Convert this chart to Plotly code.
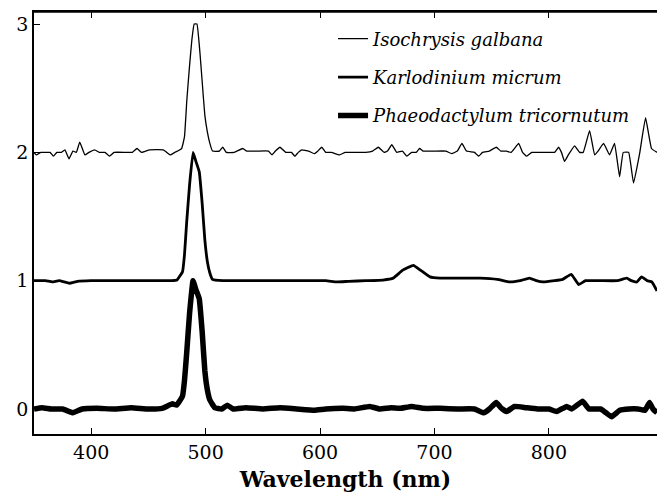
import plotly.graph_objects as go

# ---- data (wavelength nm, offset normalized signal) ----
iso_x = [350, 352, 356, 360, 364, 367, 370, 374, 377, 380.6, 384, 387, 390, 394.5, 398, 403, 407, 412, 416, 420,
         430, 436, 440, 444, 451, 463, 466, 469, 473, 479, 481.5, 483.6, 486, 488, 490, 492.4, 495, 497, 499.3, 501.5, 503.7, 506, 512, 515,
         518, 525, 532.5, 536, 545, 555, 558, 561, 565, 570, 575, 578, 581, 584, 590, 595, 598, 601.5, 605, 610,
         617, 622, 630, 640, 646, 651, 656, 659, 662.7, 667, 672, 675.8, 680, 684, 687, 690, 700, 710, 715, 720,
         724, 728, 735, 738.6, 742, 748, 754, 758, 763, 767, 773.6, 777, 780.6, 785, 790, 800, 805, 808.5, 811, 813.7,
         817, 822.5, 826.9, 830, 835.6, 840, 843, 847.8, 853, 857.4, 861.8, 865, 869.7, 874, 879.3, 884.5, 889.7, 894.5]
iso_y = [2.0, 1.98, 2.0, 2.0, 2.0, 1.97, 2.0, 2.0, 2.02, 1.95, 2.01, 2.0, 2.08, 1.98, 2.0, 2.02, 2.0, 2.0, 1.97, 2.0,
         2.0, 2.0, 2.03, 2.0, 2.02, 2.02, 2.0, 1.98, 2.0, 2.03, 2.12, 2.41, 2.68, 2.88, 3.0, 3.0, 2.78, 2.55, 2.29, 2.16, 2.07, 2.01, 2.01, 2.04,
         2.0, 2.0, 2.03, 2.01, 2.01, 2.01, 1.98, 2.01, 2.04, 2.0, 2.0, 1.97, 2.0, 2.02, 2.01, 1.99, 2.01, 2.04, 2.0, 2.0,
         1.98, 2.0, 2.0, 2.0, 2.01, 2.04, 2.0, 2.01, 2.06, 2.0, 2.01, 1.97, 2.0, 2.0, 2.03, 2.01, 2.01, 2.01, 1.99, 2.01,
         2.07, 2.01, 2.0, 1.97, 2.0, 2.01, 2.04, 2.01, 2.01, 2.0, 2.07, 2.0, 1.97, 2.0, 2.0, 2.0, 2.0, 2.04, 2.0, 1.93,
         1.98, 2.05, 2.0, 2.0, 2.17, 1.98, 2.01, 2.07, 1.98, 2.07, 1.81, 2.0, 2.0, 1.76, 1.99, 2.27, 2.03, 2.0]

kar_x = [350, 360, 366, 372, 381, 388, 400, 420, 440, 460, 470, 475, 479.8, 481.5, 483.4, 486, 489, 491.5, 494.4, 497, 499.3, 501.5, 503.7, 506, 515,
         530, 550, 570, 590, 605, 614.6, 625, 640, 655, 664, 672, 681.6, 688, 696, 705, 720, 740, 755, 765.7, 775,
         783, 789, 795, 805, 812, 819.6, 826, 832, 845, 860, 868, 872, 877, 881, 886, 890, 894.5]
kar_y = [1.0, 1.0, 0.99, 1.0, 0.98, 0.995, 1.0, 1.0, 1.0, 1.0, 1.0, 1.005, 1.07, 1.2, 1.45, 1.75, 2.0, 1.93, 1.85, 1.6, 1.32, 1.15, 1.06, 1.01, 1.0,
         1.0, 1.0, 1.0, 1.0, 1.0, 0.99, 0.995, 1.0, 1.005, 1.02, 1.08, 1.12, 1.08, 1.03, 1.02, 1.02, 1.02, 1.01, 0.99, 1.0,
         1.02, 1.0, 0.99, 1.0, 1.01, 1.05, 0.97, 1.0, 1.0, 1.0, 1.02, 1.0, 0.99, 1.03, 1.0, 0.99, 0.92]

pha_x = [350, 357, 365, 375, 384, 392, 405, 420, 435, 450, 462, 471, 474.6, 479.8, 481.5, 483.4, 486, 489, 491.5, 494.4, 497, 499.3, 501.5, 503.7, 508,
         514, 519, 524, 535, 550, 565, 580, 595, 605, 620, 630, 643.5, 652, 662, 670, 680, 690, 705, 720, 735,
         743, 748, 754, 758, 763, 770, 780, 790, 800, 806.8, 815.5, 820, 829.5, 835, 845, 850, 854.8, 862, 870, 878,
         884, 888, 891, 894.5]
pha_y = [0.0, 0.01, 0.0, 0.0, -0.03, 0.0, 0.005, 0.0, 0.01, 0.0, 0.005, 0.04, 0.03, 0.1, 0.22, 0.43, 0.75, 1.0, 0.93, 0.86, 0.6, 0.30, 0.15, 0.07, 0.01,
         0.0, 0.03, 0.0, 0.01, 0.0, 0.01, 0.0, -0.01, 0.0, 0.005, 0.0, 0.02, 0.0, 0.01, 0.005, 0.02, 0.005, 0.005, 0.0, 0.0,
         -0.03, 0.0, 0.05, 0.01, -0.02, 0.02, 0.01, 0.0, 0.0, -0.02, 0.02, 0.0, 0.06, 0.0, 0.0, -0.03, -0.06, -0.01, 0.0, 0.0,
         -0.01, 0.05, 0.0, -0.03]

names = ["Isochrysis galbana", "Karlodinium micrum", "Phaeodactylum tricornutum"]
widths = [1.3, 2.8, 5.5]
x_ticks = [400, 500, 600, 700, 800]
y_ticks = [0, 1, 2, 3]

fig = go.Figure()
for i, (xs, ys, nm, w) in enumerate(zip([iso_x, kar_x, pha_x], [iso_y, kar_y, pha_y], names, widths)):
    fig.add_trace(go.Scatter(x=xs, y=ys, mode="lines", name=nm, legendgroup="g%d" % i,
                             line=dict(color="black", width=w, shape="spline", smoothing=0.3)))

serif = "DejaVu Serif"
fig.update_layout(
    template="none",
    width=657, height=504,
    margin=dict(l=34, r=0, t=12, b=70),
    paper_bgcolor="white", plot_bgcolor="white",
    font=dict(family=serif, color="black", size=19),
    showlegend=True,
    legend=dict(x=0.48, y=0.980, xanchor="left", yanchor="top",
                bgcolor="rgba(0,0,0,0)", font=dict(family=serif, size=18, style="italic"),
                itemwidth=30, tracegroupgap=12),
    xaxis=dict(range=[350, 894.5], tickvals=x_ticks, ticks="inside", ticklen=6, tickwidth=1.3, tickcolor="black",
               showline=True, linecolor="black", linewidth=1.5, mirror="allticks", showgrid=False,
               zeroline=False, tickfont=dict(family=serif, size=19),
               title=dict(text="<b>Wavelength (nm)</b>", font=dict(family=serif, size=22), standoff=10)),
    yaxis=dict(range=[-0.195, 3.094], tickvals=y_ticks, ticks="inside", ticklen=6, tickwidth=1.3, tickcolor="black",
               showline=True, linecolor="black", linewidth=1.5, mirror=False, showgrid=False,
               zeroline=False, tickfont=dict(family=serif, size=19)),
    shapes=[dict(type="line", xref="paper", yref="paper", x0=0, x1=1, y0=1, y1=1,
                 line=dict(color="black", width=1.5))],
)

fig.write_html("out.html")
